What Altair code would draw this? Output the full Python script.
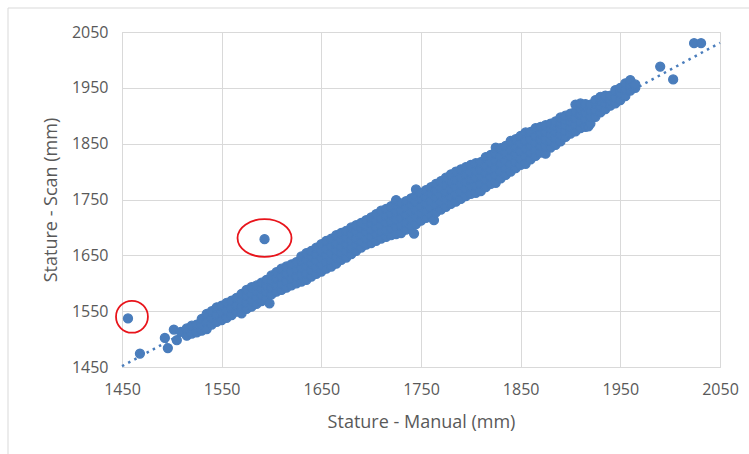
import altair as alt
import pandas as pd

# Band of observations: manual stature values (mm) and the scan values read at each
band_manual = [1493, 1496, 1502, 1505, 1509, 1515, 1520, 1525, 1530, 1535, 1540, 1545, 1550,
               1555, 1560, 1565, 1570, 1575, 1580, 1585, 1590, 1595, 1598, 1600, 1605, 1610,
               1615, 1620, 1625, 1630, 1635, 1640, 1645, 1650, 1655, 1660, 1665, 1670, 1675,
               1680, 1685, 1690, 1695, 1700, 1705, 1710, 1715, 1720, 1725, 1730, 1735, 1740,
               1745, 1750, 1755, 1760, 1763, 1765, 1770, 1775, 1780, 1785, 1790, 1795, 1800,
               1805, 1810, 1815, 1820, 1825, 1830, 1835, 1840, 1845, 1850, 1855, 1860, 1865,
               1870, 1875, 1880, 1885, 1890, 1895, 1900, 1905, 1910, 1915, 1918, 1920, 1925,
               1930, 1935, 1940, 1945, 1950, 1955, 1960, 1965]
band_scan = [
    [1502], [1484], [1517], [1498], [1513],
    [1506, 1519], [1510, 1524], [1512, 1526], [1515, 1527, 1536], [1518, 1531, 1545],
    [1526, 1538, 1550], [1531, 1544, 1557], [1534, 1547, 1560], [1538, 1551, 1565],
    [1543, 1556, 1569], [1549, 1561, 1574], [1546, 1557, 1569, 1581],
    [1554, 1566, 1578, 1588], [1558, 1570, 1582, 1593], [1563, 1575, 1587, 1596],
    [1568, 1580, 1591, 1601], [1573, 1585, 1596, 1606], [1564],
    [1580, 1592, 1604, 1614], [1585, 1597, 1609, 1620], [1588, 1600, 1612, 1626],
    [1592, 1604, 1617, 1630], [1596, 1608, 1621, 1634], [1600, 1612, 1625, 1638],
    [1603, 1615, 1628, 1641, 1648], [1606, 1618, 1631, 1643, 1654],
    [1612, 1624, 1636, 1648, 1658], [1617, 1629, 1641, 1653, 1664],
    [1621, 1633, 1645, 1657, 1670], [1626, 1638, 1650, 1662, 1676],
    [1630, 1642, 1654, 1666, 1680], [1635, 1647, 1659, 1671, 1686],
    [1642, 1654, 1666, 1678, 1690], [1646, 1658, 1670, 1682, 1694],
    [1652, 1664, 1676, 1688, 1700], [1658, 1669, 1681, 1693, 1704],
    [1664, 1675, 1687, 1699, 1708], [1669, 1680, 1692, 1703, 1713],
    [1672, 1684, 1696, 1708, 1718], [1676, 1688, 1700, 1712, 1724],
    [1680, 1692, 1704, 1716, 1730], [1683, 1695, 1708, 1721, 1733],
    [1686, 1698, 1711, 1724, 1738], [1688, 1701, 1714, 1728, 1741, 1749],
    [1690, 1703, 1717, 1730, 1743], [1696, 1709, 1722, 1735, 1747],
    [1702, 1715, 1728, 1740, 1752], [1706, 1719, 1732, 1746, 1758, 1768],
    [1712, 1725, 1738, 1751, 1762], [1717, 1730, 1743, 1756, 1767],
    [1722, 1735, 1748, 1761, 1772], [1713],
    [1727, 1740, 1753, 1766, 1778], [1732, 1745, 1758, 1771, 1783],
    [1737, 1750, 1763, 1776, 1789], [1742, 1755, 1768, 1781, 1795],
    [1746, 1759, 1772, 1785, 1800], [1751, 1764, 1777, 1790, 1804],
    [1756, 1769, 1782, 1795, 1808], [1760, 1773, 1786, 1799, 1812],
    [1762, 1775, 1789, 1802, 1815], [1765, 1778, 1791, 1804, 1817],
    [1772, 1785, 1798, 1810, 1826], [1778, 1791, 1804, 1816, 1830],
    [1780, 1793, 1806, 1820, 1832, 1843], [1788, 1801, 1814, 1827, 1842],
    [1794, 1807, 1820, 1833, 1846], [1800, 1813, 1826, 1839, 1855],
    [1806, 1818, 1831, 1844, 1858], [1812, 1824, 1837, 1850, 1864],
    [1814, 1827, 1841, 1855, 1870], [1822, 1834, 1846, 1858, 1871],
    [1828, 1840, 1852, 1864, 1878], [1834, 1846, 1858, 1869, 1880],
    [1832, 1845, 1858, 1871, 1883], [1843, 1855, 1867, 1877, 1886],
    [1848, 1860, 1872, 1882, 1890], [1854, 1866, 1877, 1887, 1897],
    [1862, 1873, 1884, 1893, 1900], [1868, 1878, 1889, 1898, 1904],
    [1872, 1884, 1896, 1908, 1920], [1878, 1890, 1902, 1912, 1922],
    [1880, 1894, 1906, 1916, 1921], [1881],
    [1886, 1898, 1910, 1920], [1898, 1910, 1922, 1928], [1906, 1917, 1927, 1934],
    [1912, 1922, 1932, 1936], [1918, 1927, 1936], [1922, 1933, 1946],
    [1928, 1940, 1950], [1935, 1947, 1958], [1945, 1955, 1964], [1950, 1956],
]

# Isolated points
lone_manual = [1456, 1468, 1593, 1743, 1990, 2003, 2024, 2031]
lone_scan = [1537, 1474, 1679, 1689, 1988, 1965, 2030, 2030]

# Red rings drawn around the two flagged outliers
ring_manual = [1460, 1593]
ring_scan = [1540, 1681]
ring_shape = ["circle",
              "M1,0C1,0.387 0.552,0.7 0,0.7C-0.552,0.7 -1,0.387 -1,0C-1,-0.387 -0.552,-0.7 0,-0.7C0.552,-0.7 1,-0.387 1,0Z"]
ring_size = [1018, 2916]

tick_values = [1450, 1550, 1650, 1750, 1850, 1950, 2050]

rows = []
for m, ys in zip(band_manual, band_scan):
    for s in ys:
        rows.append({"manual": m, "scan": s})
for m, s in zip(lone_manual, lone_scan):
    rows.append({"manual": m, "scan": s})
df = pd.DataFrame(rows)

rings = pd.DataFrame({"manual": ring_manual, "scan": ring_scan,
                      "shape": ring_shape, "size": ring_size})

FONT = "Open Sans"
GRAY = "#595959"
BLUE = "#4a7dbc"

xscale = alt.Scale(domain=[1450, 2050], nice=False, zero=False)
yscale = alt.Scale(domain=[1450, 2050], nice=False, zero=False)

xenc = alt.X("manual:Q", scale=xscale,
             axis=alt.Axis(values=tick_values, title="Stature - Manual (mm)", format="d",
                           labelFlush=False, labelPadding=14, titlePadding=16))
yenc = alt.Y("scan:Q", scale=yscale,
             axis=alt.Axis(values=tick_values, title="Stature - Scan (mm)", format="d",
                           labelFlush=False, labelPadding=14, titlePadding=11))

base = alt.Chart(df)

trend = base.transform_regression(
    "manual", "scan", extent=[1450, 2050]
).mark_line(color=BLUE, strokeWidth=2.5, strokeDash=[2.5, 4.5]).encode(x=xenc, y=yenc)

points = base.mark_circle(
    size=82, color=BLUE, opacity=1, stroke=BLUE, strokeWidth=1.2
).encode(x=xenc, y=yenc)

ring_layer = alt.Chart(rings).mark_point(
    filled=False, color="#e8141b", strokeWidth=1.8, opacity=1
).encode(
    x=alt.X("manual:Q", scale=xscale),
    y=alt.Y("scan:Q", scale=yscale),
    shape=alt.Shape("shape:N", scale=None),
    size=alt.Size("size:Q", scale=None),
)

frame = alt.Chart(alt.Data(values=[{"f": 1}])).mark_rect(
    fill=None, stroke="#d9d9d9", strokeWidth=1
).encode(
    x=alt.value(-114), x2=alt.value(700), y=alt.value(-24), y2=alt.value(500)
)

chart = alt.layer(frame, trend, points, ring_layer).properties(
    width=598, height=335,
    autosize=alt.AutoSizeParams(type="none"),
    padding={"left": 122, "top": 32, "right": 29, "bottom": 87},
    background="white",
).configure_view(
    stroke="#d9d9d9"
).configure_axis(
    grid=True, gridColor="#d9d9d9", gridWidth=1,
    domainColor="#d9d9d9", ticks=False,
    labelFont=FONT, labelFontSize=16, labelColor=GRAY,
    titleFont=FONT, titleFontSize=18, titleColor=GRAY, titleFontWeight="normal",
)

chart.save("out.html", embed_options={"renderer": "svg", "actions": False})
